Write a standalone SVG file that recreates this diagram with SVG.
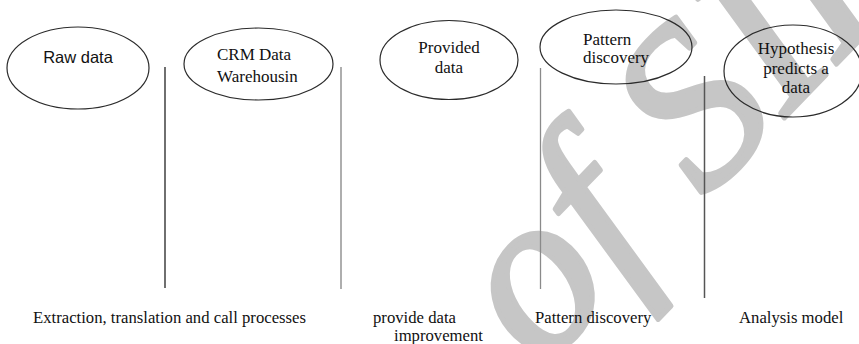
<svg xmlns="http://www.w3.org/2000/svg" width="859" height="344" viewBox="0 0 859 344">
  <style>
    .node ellipse { fill: none; stroke: #2b2b2b; stroke-width: 1.2; }
    .serif { font-family: "Liberation Serif", "Times New Roman", serif; font-size: 17px; fill: #111; }
    .sans { font-family: "Liberation Sans", Arial, sans-serif; font-size: 16.5px; fill: #111; }
    .label { font-family: "Liberation Serif", "Times New Roman", serif; font-size: 16.7px; fill: #111; }
    .mark { font-family: "Liberation Serif", "Times New Roman", serif; font-style: italic; font-size: 230px; fill: #c6c6c6; stroke: #c6c6c6; stroke-width: 5; stroke-linejoin: round; }
  </style>
  <rect width="859" height="344" fill="#ffffff"/>

  <!-- watermark -->
  <text class="mark" transform="translate(541,370) rotate(-46)">of SID</text>

  <!-- stage dividers -->
  <g id="connectors" fill="none">
    <line x1="165" y1="67" x2="165" y2="288" stroke="#333" stroke-width="1.4"/>
    <line x1="341" y1="67" x2="341" y2="289" stroke="#9a9a9a" stroke-width="1.6"/>
    <line x1="540.5" y1="68" x2="540.5" y2="289" stroke="#8a8a8a" stroke-width="1.3"/>
    <line x1="704.5" y1="76" x2="704.5" y2="298" stroke="#555" stroke-width="1.5"/>
  </g>

  <g id="raw-data" class="node">
    <ellipse cx="78" cy="68" rx="71" ry="41"/>
    <text class="sans" x="78" y="63" text-anchor="middle">Raw data</text>
  </g>

  <g id="crm-warehouse" class="node">
    <ellipse cx="258.5" cy="64" rx="74.5" ry="36"/>
    <text class="serif" x="217" y="60">CRM Data</text>
    <text class="serif" x="217" y="82">Warehousin</text>
  </g>

  <g id="provided-data" class="node">
    <ellipse cx="449" cy="60" rx="69" ry="39.5"/>
    <text class="serif" x="449" y="53" text-anchor="middle">Provided</text>
    <text class="serif" x="449" y="72.5" text-anchor="middle">data</text>
  </g>

  <g id="pattern-discovery" class="node">
    <ellipse cx="616" cy="47" rx="76" ry="37"/>
    <text class="serif" x="583" y="45">Pattern</text>
    <text class="serif" x="583" y="63">discovery</text>
  </g>

  <g id="hypothesis" class="node">
    <ellipse cx="793" cy="71" rx="69" ry="46"/>
    <text class="serif" x="796" y="54" text-anchor="middle">Hypothesis</text>
    <text class="serif" x="796" y="74" text-anchor="middle">predicts a</text>
    <text class="serif" x="796" y="93" text-anchor="middle">data</text>
  </g>

  <!-- stage captions -->
  <g id="captions">
    <text class="label" x="33" y="323">Extraction, translation and call processes</text>
    <text class="label" x="373" y="323">provide data</text>
    <text class="label" x="394" y="341">improvement</text>
    <text class="label" x="535" y="323">Pattern discovery</text>
    <text class="label" x="739" y="323">Analysis model</text>
  </g>
</svg>
